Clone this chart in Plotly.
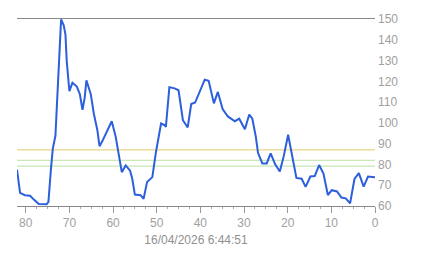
import plotly.graph_objects as go

minutes_ago = [82.0, 81.3, 80.2, 79.0, 78.2, 77.0, 75.2, 74.8, 74.2, 73.8, 73.2, 72.9, 72.6, 72.2, 71.9,
               71.3, 70.9, 70.6, 70.0, 69.3, 68.3, 67.6, 67.0, 66.5, 66.1, 65.1, 64.4, 63.6, 63.1, 62.5,
               61.3, 60.3, 59.4, 58.6, 58.0, 57.1, 56.1, 55.6, 55.0, 53.7, 53.0, 52.2, 51.0, 50.2, 49.6,
               49.0, 48.2, 47.9, 47.1, 45.9, 45.0, 44.0, 42.9, 42.1, 41.2, 40.2, 39.0, 38.1, 36.9, 36.0,
               34.9, 33.7, 32.1, 31.1, 29.8, 28.8, 28.1, 27.3, 26.8, 25.8, 24.8, 23.9, 22.9, 21.8, 20.9,
               19.9, 18.9, 18.0, 16.8, 15.9, 14.8, 13.8, 12.8, 11.8, 10.8, 9.9, 8.7, 7.7, 6.7, 5.7,
               4.7, 3.7, 2.6, 1.6, 0.0]
values = [77.5, 66.3, 65.2, 64.9, 63.2, 61.0, 60.8, 62.0, 78.5, 87.5, 93.8, 106, 117, 137, 149.8,
          147, 142.5, 129.5, 115.3, 119.3, 117.5, 113.8, 106.3, 112, 120.5, 113.8, 104.4, 96.6, 88.8, 91,
          96.6, 100.8, 93.4, 84, 76.3, 79.5, 77, 73.1, 65.5, 65.2, 63.5, 71.6, 73.9, 85.6, 92.7,
          99.7, 98.9, 98.1, 117.2, 116.6, 115.7, 101.3, 97.8, 109.1, 109.8, 114.5, 120.8, 120.3, 109.4, 114.9,
          106.7, 103.1, 100.8, 102, 96.9, 104, 102, 93.4, 85.6, 80.5, 80.5, 85.3, 80.2, 76.6, 84,
          94.3, 84, 73.5, 73.1, 69.2, 74.2, 74.4, 79.7, 75.6, 65.3, 67.6, 67, 64.1, 63.7, 61.3,
          73, 75.8, 69.3, 74.2, 73.8]

threshold_levels = [87, 82, 79.2]
threshold_colors = ["#e3cd6a", "#b9e2a6", "#b9e2a6"]
y_ticks = [60, 70, 80, 90, 100, 110, 120, 130, 140, 150]
x_ticks = [80, 70, 60, 50, 40, 30, 20, 10, 0]
timestamp = "16/04/2026 6:44:51"

fig = go.Figure()
fig.add_trace(go.Scatter(x=minutes_ago, y=values, mode="lines",
                         line=dict(color="#2c5fdb", width=2), hoverinfo="skip"))

for lvl, col in zip(threshold_levels, threshold_colors):
    fig.add_shape(type="line", xref="paper", yref="y", x0=0, x1=1, y0=lvl, y1=lvl,
                  line=dict(color=col, width=1), layer="below")

fig.update_layout(
    width=443, height=258,
    margin=dict(l=17, r=68, t=14, b=52),
    paper_bgcolor="white", plot_bgcolor="white",
    showlegend=False,
    font=dict(family="Liberation Sans, Arial, sans-serif", size=11, color="#a0a0a0"),
    xaxis=dict(range=[82, 0], tickvals=x_ticks, showgrid=False, zeroline=False,
               showline=True, linecolor="#888888", linewidth=1, mirror=True,
               ticks="outside", ticklen=6, tickcolor="#999999", tickwidth=1,
               minor=dict(dtick=2.5, ticks="outside", ticklen=2, tickcolor="#aaaaaa"),
               tickfont=dict(size=12, color="#a0a0a0"),
               title=dict(text=timestamp, font=dict(size=12, color="#909090"), standoff=6)),
    yaxis=dict(range=[60, 150], tickvals=y_ticks, side="right", showgrid=False, zeroline=False,
               showline=False, ticks="", tickfont=dict(size=12, color="#a0a0a0"),
               ticklabelstandoff=2),
)

fig.write_html("out.html")
